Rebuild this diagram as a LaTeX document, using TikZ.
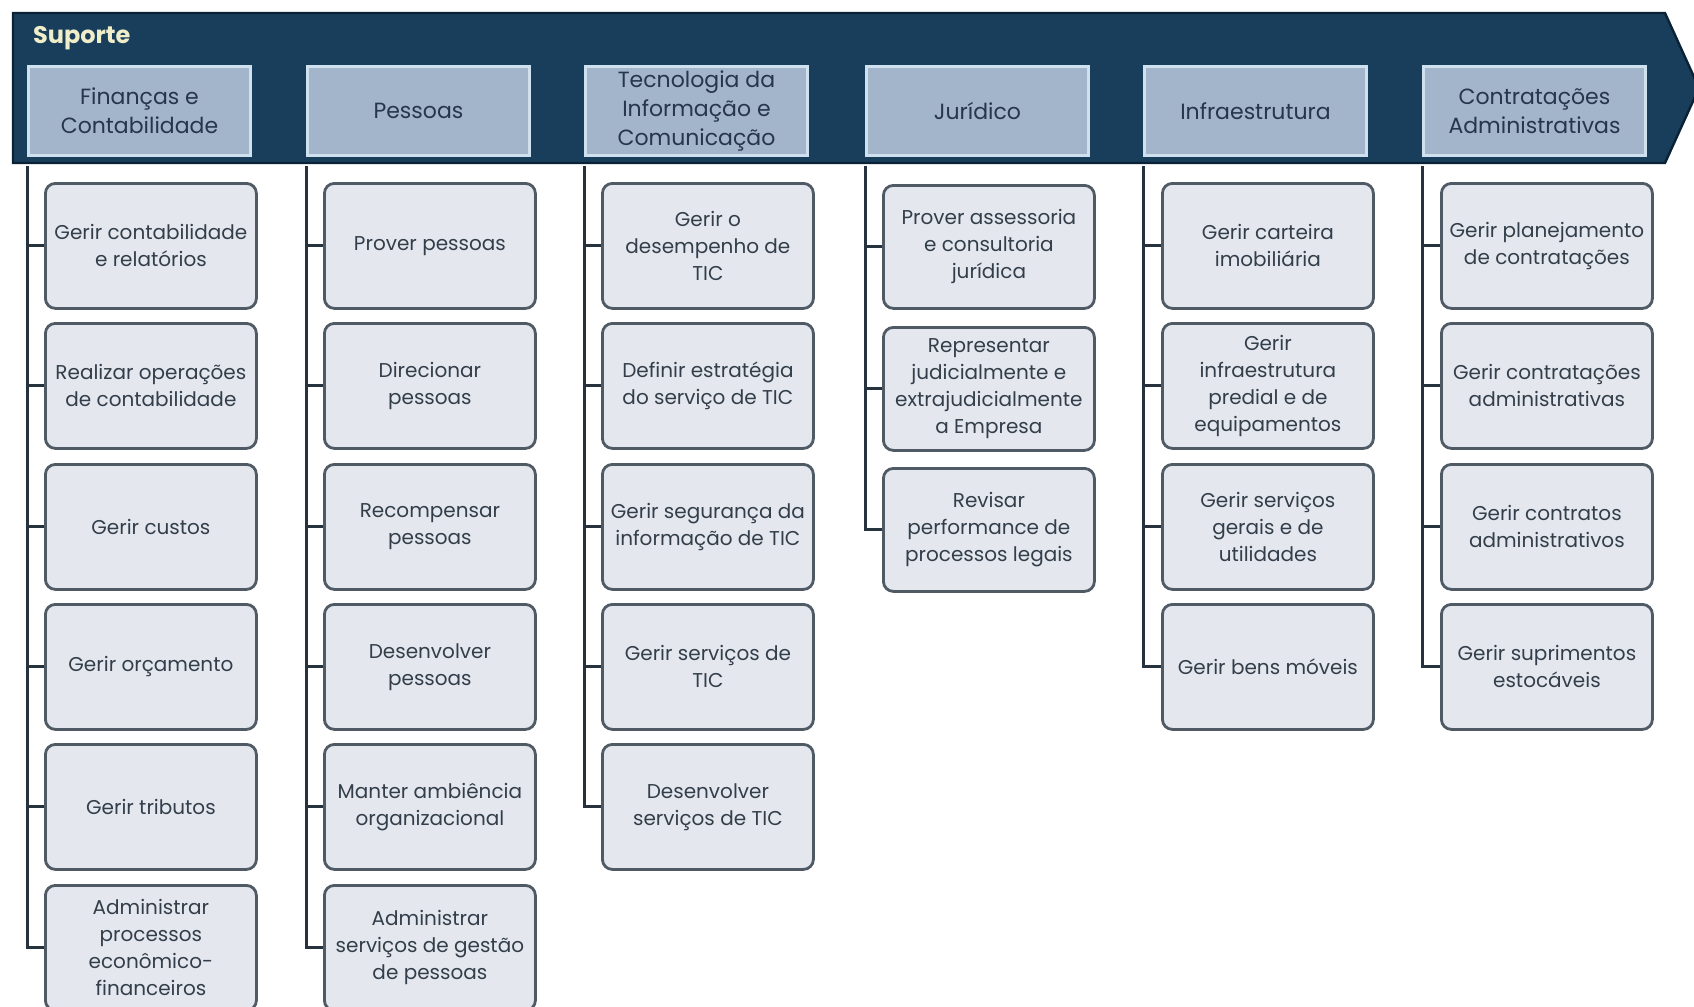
\documentclass[tikz,border=0pt]{standalone}
\usepackage{fontspec}
\setmainfont{Poppins}
\definecolor{bannerfill}{HTML}{193E5C}
\definecolor{bannerdraw}{HTML}{0B2236}
\definecolor{hdrfill}{HTML}{A2B5CA}
\definecolor{hdrborder}{HTML}{CFE0EF}
\definecolor{hdrtext}{HTML}{27364A}
\definecolor{taskfill}{HTML}{E4E8EE}
\definecolor{taskborder}{HTML}{505A64}
\definecolor{tasktext}{HTML}{333E4A}
\definecolor{connc}{HTML}{26323E}
\definecolor{suporte}{HTML}{F0EEC8}
\tikzset{
 hdr/.style={draw=hdrborder, fill=hdrfill, line width=1.5pt, minimum width=111pt, minimum height=44.5pt, inner sep=0pt, anchor=north west, align=center, font=\fontsize{11}{14.5}\selectfont, text=hdrtext},
 task/.style={draw=taskborder, fill=taskfill, line width=1.4pt, rounded corners=5pt, minimum width=105.5pt, minimum height=62.5pt, inner sep=0pt, anchor=north west, align=center, font=\fontsize{10}{13.5}\selectfont, text=tasktext},
 conn/.style={draw=connc, line width=1.5pt},
}
\begin{document}
\begin{tikzpicture}[x=0.5pt,y=-0.5pt]
\useasboundingbox (0,0) rectangle (1694,1007);
\fill[white] (0,0) rectangle (1694,1007);
\begin{scope}
\clip (0,0) rectangle (1694,1007);
% banner
\draw[fill=bannerfill, draw=bannerdraw, line width=1.2pt, line join=miter]
  (13,13) -- (1665,13) -- (1699,88) -- (1665,163) -- (13,163) -- cycle;
\node[anchor=west, font=\bfseries\fontsize{12}{12}\selectfont, text=suporte] (sup) at (26,38) {Suporte};
% headers
\node[hdr] (h1) at (27,65) {Finanças e\\Contabilidade};
\node[hdr] (h2) at (306,65) {Pessoas};
\node[hdr] (h3) at (584,65) {Tecnologia da\\Informação e\\Comunicação};
\node[hdr] (h4) at (865,65) {Jurídico};
\node[hdr] (h5) at (1143,65) {Infraestrutura};
\node[hdr] (h6) at (1422,65) {Contratações\\Administrativas};
% column 1
\node[task] (a1) at (44,182) {Gerir contabilidade\\e relatórios};
\node[task] (a2) at (44,322) {Realizar operações\\de contabilidade};
\node[task] (a3) at (44,463) {Gerir custos};
\node[task] (a4) at (44,603) {Gerir orçamento};
\node[task] (a5) at (44,743) {Gerir tributos};
\node[task] (a6) at (44,884) {Administrar\\processos\\econômico-\\financeiros};
% column 2
\node[task] (b1) at (323,182) {Prover pessoas};
\node[task] (b2) at (323,322) {Direcionar\\pessoas};
\node[task] (b3) at (323,463) {Recompensar\\pessoas};
\node[task] (b4) at (323,603) {Desenvolver\\pessoas};
\node[task] (b5) at (323,743) {Manter ambiência\\organizacional};
\node[task] (b6) at (323,884) {Administrar\\serviços de gestão\\de pessoas};
% column 3
\node[task] (c1) at (601,182) {Gerir o\\desempenho de\\TIC};
\node[task] (c2) at (601,322) {Definir estratégia\\do serviço de TIC};
\node[task] (c3) at (601,463) {Gerir segurança da\\informação de TIC};
\node[task] (c4) at (601,603) {Gerir serviços de\\TIC};
\node[task] (c5) at (601,743) {Desenvolver\\serviços de TIC};
% column 4
\node[task, minimum height=61.5pt] (d1) at (882,184) {Prover assessoria\\e consultoria\\jurídica};
\node[task, minimum height=61.5pt] (d2) at (882,326) {Representar\\judicialmente e\\extrajudicialmente\\a Empresa};
\node[task, minimum height=61.5pt] (d3) at (882,467) {Revisar\\performance de\\processos legais};
% column 5
\node[task] (e1) at (1161,182) {Gerir carteira\\imobiliária};
\node[task] (e2) at (1161,322) {Gerir\\infraestrutura\\predial e de\\equipamentos};
\node[task] (e3) at (1161,463) {Gerir serviços\\gerais e de\\utilidades};
\node[task] (e4) at (1161,603) {Gerir bens móveis};
% column 6
\node[task] (f1) at (1440,182) {Gerir planejamento\\de contratações};
\node[task] (f2) at (1440,322) {Gerir contratações\\administrativas};
\node[task] (f3) at (1440,463) {Gerir contratos\\administrativos};
\node[task] (f4) at (1440,603) {Gerir suprimentos\\estocáveis};
% connectors
\foreach \h/\list in {h1/{a1,a2,a3,a4,a5,a6}, h2/{b1,b2,b3,b4,b5,b6}, h3/{c1,c2,c3,c4,c5}, h4/{d1,d2,d3}, h5/{e1,e2,e3,e4}, h6/{f1,f2,f3,f4}}{
  \foreach \c in \list {
    \draw[conn] ([yshift=-4.5pt]\h.south west) |- (\c.west);
  }
}
\end{scope}
\end{tikzpicture}
\end{document}
